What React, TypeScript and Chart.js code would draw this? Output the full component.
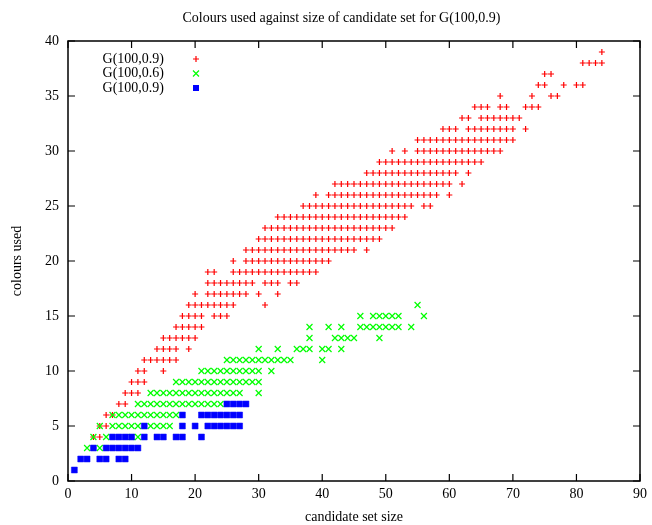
import { useEffect, useRef } from 'react';
import { Chart, registerables } from 'chart.js';

Chart.register(...registerables);

const FONT = '"Liberation Serif", "Times New Roman", serif';

const titleText = 'Colours used against size of candidate set for G(100,0.9)';
const xAxisTitle = 'candidate set size';
const yAxisTitle = 'colours used';
const seriesLabels = ['G(100,0.9)', 'G(100,0.6)', 'G(100,0.9)'];
const seriesColours = ['#ff0000', '#00ff00', '#0000ff'];
const xTickValues = [0, 10, 20, 30, 40, 50, 60, 70, 80, 90];
const yTickValues = [0, 5, 10, 15, 20, 25, 30, 35, 40];

// [colours used, candidate set sizes observed]
const redRows: [number, number[]][] = [
  [4, [4, 5]],
  [5, [5, 6]],
  [6, [6, 7]],
  [7, [8, 9]],
  [8, [9, 10, 11]],
  [9, [10, 11, 12]],
  [10, [11, 12, 15]],
  [11, [12, 13, 14, 15, 16, 17]],
  [12, [14, 15, 16, 17, 19]],
  [13, [15, 16, 17, 18, 19, 20]],
  [14, [17, 18, 19, 20, 21]],
  [15, [18, 19, 20, 21, 23, 24, 25]],
  [16, [19, 20, 21, 22, 23, 24, 25, 26, 31]],
  [17, [20, 22, 23, 24, 25, 26, 27, 28, 30, 33]],
  [18, [22, 23, 24, 25, 26, 27, 28, 29, 31, 32, 33, 35, 36]],
  [19, [22, 23, 26, 27, 28, 29, 30, 31, 32, 33, 34, 35, 36, 37, 38, 39]],
  [20, [26, 28, 29, 30, 31, 32, 33, 34, 35, 36, 37, 38, 39, 40, 41]],
  [21, [28, 29, 30, 31, 32, 33, 34, 35, 36, 37, 38, 39, 40, 41, 42, 43, 44, 45, 47]],
  [22, [30, 31, 32, 33, 34, 35, 36, 37, 38, 39, 40, 41, 42, 43, 44, 45, 46, 47, 48, 49]],
  [23, [31, 32, 33, 34, 35, 36, 37, 38, 39, 40, 41, 42, 43, 44, 45, 46, 47, 48, 49, 50, 51]],
  [24, [33, 34, 35, 36, 37, 38, 39, 40, 41, 42, 43, 44, 45, 46, 47, 48, 49, 50, 51, 52, 53]],
  [25, [37, 38, 39, 40, 41, 42, 43, 44, 45, 46, 47, 48, 49, 50, 51, 52, 53, 54, 56, 57]],
  [26, [39, 41, 42, 43, 44, 45, 46, 47, 48, 49, 50, 51, 52, 53, 54, 55, 56, 57, 58, 60]],
  [27, [42, 43, 44, 45, 46, 47, 48, 49, 50, 51, 52, 53, 54, 55, 56, 57, 58, 59, 60, 62]],
  [28, [47, 48, 49, 50, 51, 52, 53, 54, 55, 56, 57, 58, 59, 60, 61, 63]],
  [29, [49, 50, 51, 52, 53, 54, 55, 56, 57, 58, 59, 60, 61, 62, 63, 64, 65]],
  [30, [51, 53, 55, 56, 57, 58, 59, 60, 61, 62, 63, 64, 65, 66, 67, 68]],
  [31, [55, 56, 57, 58, 59, 60, 61, 62, 63, 64, 65, 66, 67, 68, 69, 70]],
  [32, [59, 60, 61, 63, 64, 65, 66, 67, 68, 69, 70, 72]],
  [33, [62, 63, 65, 66, 67, 68, 69, 70, 71]],
  [34, [64, 65, 66, 68, 69, 72, 73, 74]],
  [35, [68, 73, 76, 77]],
  [36, [74, 75, 78, 80, 81]],
  [37, [75, 76]],
  [38, [81, 82, 83, 84]],
  [39, [84]],
];

const greenRows: [number, number[]][] = [
  [3, [3, 5]],
  [4, [4, 6, 10, 11]],
  [5, [5, 7, 8, 9, 10, 11, 13, 14, 15, 16]],
  [6, [7, 8, 9, 10, 11, 12, 13, 14, 15, 16, 17]],
  [7, [11, 12, 13, 14, 15, 16, 17, 18, 19, 20, 21, 22, 23, 24]],
  [8, [13, 14, 15, 16, 17, 18, 19, 20, 21, 22, 23, 24, 25, 26, 27, 30]],
  [9, [17, 18, 19, 20, 21, 22, 23, 24, 25, 26, 27, 28, 29, 30]],
  [10, [21, 22, 23, 24, 25, 26, 27, 28, 29, 30, 32]],
  [11, [25, 26, 27, 28, 29, 30, 31, 32, 33, 34, 35, 40]],
  [12, [30, 33, 36, 37, 38, 40, 41, 43]],
  [13, [38, 42, 43, 44, 45, 49]],
  [14, [38, 41, 43, 46, 47, 48, 49, 50, 51, 52, 54]],
  [15, [46, 48, 49, 50, 51, 52, 56]],
  [16, [55]],
];

const blueRows: [number, number[]][] = [
  [1, [1]],
  [2, [2, 3, 5, 6, 8, 9]],
  [3, [4, 6, 7, 8, 9, 10, 11]],
  [4, [7, 8, 9, 10, 12, 14, 15, 17, 18, 21]],
  [5, [12, 18, 20, 22, 23, 24, 25, 26, 27]],
  [6, [18, 21, 22, 23, 24, 25, 26, 27]],
  [7, [25, 26, 27, 28]],
];

function toPoints(rows: [number, number[]][]) {
  const pts: { x: number; y: number }[] = [];
  rows.forEach(([y, xs]) => xs.forEach((x) => pts.push({ x, y })));
  return pts;
}

function drawMarker(ctx: CanvasRenderingContext2D, kind: number, x: number, y: number) {
  ctx.save();
  ctx.strokeStyle = seriesColours[kind];
  ctx.fillStyle = seriesColours[kind];
  ctx.lineWidth = 1.2;
  ctx.beginPath();
  if (kind === 0) {
    ctx.moveTo(x - 3, y);
    ctx.lineTo(x + 3, y);
    ctx.moveTo(x, y - 3);
    ctx.lineTo(x, y + 3);
    ctx.stroke();
  } else if (kind === 1) {
    ctx.moveTo(x - 3, y - 3);
    ctx.lineTo(x + 3, y + 3);
    ctx.moveTo(x - 3, y + 3);
    ctx.lineTo(x + 3, y - 3);
    ctx.stroke();
  } else {
    ctx.fillRect(x - 3, y - 3, 6, 6);
  }
  ctx.restore();
}

const framePlugin = {
  id: 'gnuplotFrame',
  afterDraw(chart: any) {
    const { ctx, chartArea, scales } = chart;
    const { left, right, top, bottom } = chartArea;
    ctx.save();
    ctx.strokeStyle = '#000';
    ctx.lineWidth = 1.5;
    ctx.strokeRect(left, top, right - left, bottom - top);
    ctx.lineWidth = 1.2;
    ctx.beginPath();
    const tl = 7;
    xTickValues.forEach((v) => {
      const px = scales.x.getPixelForValue(v);
      ctx.moveTo(px, bottom);
      ctx.lineTo(px, bottom - tl);
      ctx.moveTo(px, top);
      ctx.lineTo(px, top + tl);
    });
    yTickValues.forEach((v) => {
      const py = scales.y.getPixelForValue(v);
      ctx.moveTo(left, py);
      ctx.lineTo(left + tl, py);
      ctx.moveTo(right, py);
      ctx.lineTo(right - tl, py);
    });
    ctx.stroke();

    ctx.fillStyle = '#000';
    ctx.font = `14px ${FONT}`;
    ctx.textBaseline = 'middle';
    ctx.textAlign = 'center';
    ctx.fillText(titleText, 341.5, 18);
    ctx.fillText(xAxisTitle, (left + right) / 2, 517);
    ctx.save();
    ctx.translate(17, (top + bottom) / 2);
    ctx.rotate(-Math.PI / 2);
    ctx.fillText(yAxisTitle, 0, 0);
    ctx.restore();

    ctx.textAlign = 'right';
    const legendY = [59, 73.5, 88];
    seriesLabels.forEach((label, i) => {
      ctx.fillStyle = '#000';
      ctx.fillText(label, 164, legendY[i]);
      drawMarker(ctx, i, 196, legendY[i]);
    });
    ctx.restore();
  },
};

export default function App() {
  const canvasRef = useRef<HTMLCanvasElement | null>(null);

  useEffect(() => {
    if (!canvasRef.current) return;
    const chart = new Chart(canvasRef.current, {
      type: 'scatter',
      data: {
        datasets: [
          {
            label: seriesLabels[0],
            data: toPoints(redRows),
            pointStyle: 'cross',
            pointRadius: 3,
            borderColor: seriesColours[0],
            backgroundColor: seriesColours[0],
            pointBorderWidth: 1.2,
            order: 3,
          },
          {
            label: seriesLabels[1],
            data: toPoints(greenRows),
            pointStyle: 'crossRot',
            pointRadius: 4.2,
            borderColor: seriesColours[1],
            backgroundColor: seriesColours[1],
            pointBorderWidth: 1.2,
            order: 2,
          },
          {
            label: seriesLabels[2],
            data: toPoints(blueRows),
            pointStyle: 'rect',
            pointRadius: 4.2,
            borderColor: seriesColours[2],
            backgroundColor: seriesColours[2],
            pointBorderWidth: 0.5,
            order: 1,
          },
        ],
      },
      options: {
        animation: false,
        responsive: false,
        devicePixelRatio: 1,
        events: [],
        layout: { padding: { top: 41, right: 8, bottom: 0, left: 0 } },
        plugins: {
          legend: { display: false },
          title: { display: false },
          tooltip: { enabled: false },
        },
        scales: {
          x: {
            type: 'linear',
            min: 0,
            max: 90,
            grid: { display: false, drawTicks: false },
            border: { display: false },
            ticks: {
              stepSize: 10,
              color: '#000',
              padding: 5,
              font: { family: FONT, size: 14 },
            },
            afterFit: (s: any) => {
              s.height = 44;
            },
          },
          y: {
            type: 'linear',
            min: 0,
            max: 40,
            grid: { display: false, drawTicks: false },
            border: { display: false },
            ticks: {
              stepSize: 5,
              color: '#000',
              padding: 9,
              font: { family: FONT, size: 14 },
            },
            afterFit: (s: any) => {
              s.width = 68;
            },
          },
        },
      },
      plugins: [framePlugin],
    });
    return () => chart.destroy();
  }, []);

  return (
    <div style={{ position: 'fixed', left: 0, top: 0, width: 652, height: 525, background: '#fff' }}>
      <canvas ref={canvasRef} width={652} height={525} style={{ width: 652, height: 525, display: 'block' }} />
    </div>
  );
}
